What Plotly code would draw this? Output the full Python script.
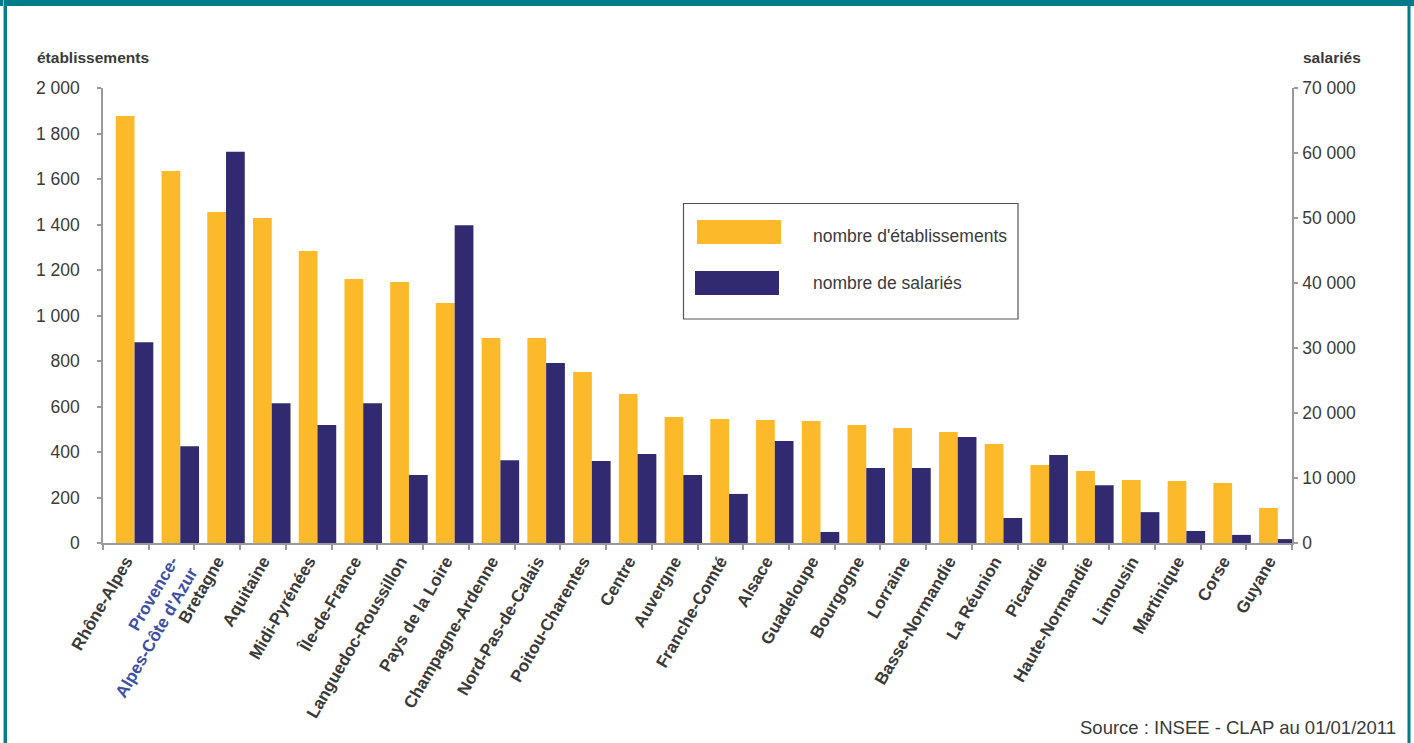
import plotly.graph_objects as go

regions = ["Rhône-Alpes", "Provence-Alpes-Côte d'Azur", "Bretagne", "Aquitaine", "Midi-Pyrénées",
           "Île-de-France", "Languedoc-Roussillon", "Pays de la Loire", "Champagne-Ardenne",
           "Nord-Pas-de-Calais", "Poitou-Charentes", "Centre", "Auvergne", "Franche-Comté",
           "Alsace", "Guadeloupe", "Bourgogne", "Lorraine", "Basse-Normandie", "La Réunion",
           "Picardie", "Haute-Normandie", "Limousin", "Martinique", "Corse", "Guyane"]
etablissements = [1877, 1635, 1455, 1429, 1284, 1160, 1147, 1055, 901, 901, 752, 655, 554, 545,
                  541, 536, 519, 505, 488, 435, 343, 316, 277, 273, 264, 154]
salaries = [30900, 14900, 60200, 21500, 18150, 21500, 10450, 48900, 12750, 27700, 12600, 13700,
            10450, 7550, 15700, 1700, 11550, 11550, 16300, 3850, 13550, 8900, 4750, 1850, 1250, 600]
highlight = "Provence-Alpes-Côte d'Azur"
left_ticks = [0, 200, 400, 600, 800, 1000, 1200, 1400, 1600, 1800, 2000]
right_ticks = [0, 10000, 20000, 30000, 40000, 50000, 60000, 70000]
series_names = ["nombre d'établissements", "nombre de salariés"]
source_text = "Source : INSEE - CLAP au 01/01/2011"

ORANGE = "#FCBA2A"
NAVY = "#312A70"
TEAL = "#007B8A"
TXT = "#3a3a3a"
AX = "#9a9a9a"
FONT = "Liberation Sans, Arial, sans-serif"

W, H = 1414, 743
ML, MR, MT, MB = 103, 122, 88, 200
PW, PH = W - ML - MR, H - MT - MB


def px(x):
    return (x - ML) / PW


def py(y):
    return (H - MB - y) / PH


def fmt(v):
    return f"{v:,}".replace(",", " ")


ticktext = []
for r in regions:
    if r == highlight:
        ticktext.append("<span style='color:#3c50a8'>Provence-</span><br>"
                        "<span style='color:#3c50a8'>Alpes-Côte d'Azur</span>")
    else:
        ticktext.append(r)

fig = go.Figure()
fig.add_trace(go.Bar(x=regions, y=etablissements, name=series_names[0], marker_color=ORANGE,
                     offset=-0.22, width=0.41, yaxis="y", marker_line_width=0))
fig.add_trace(go.Bar(x=regions, y=salaries, name=series_names[1], marker_color=NAVY,
                     offset=0.19, width=0.41, yaxis="y2", marker_line_width=0))

shapes = []
# frame
shapes.append(dict(type="rect", xref="paper", yref="paper", x0=px(0), x1=px(W), y0=py(6), y1=py(0),
                   fillcolor=TEAL, line_width=0, layer="above"))
shapes.append(dict(type="rect", xref="paper", yref="paper", x0=px(3), x1=px(4), y0=py(H), y1=py(0),
                   fillcolor="#8fc4c9", line_width=0))
shapes.append(dict(type="rect", xref="paper", yref="paper", x0=px(4), x1=px(7), y0=py(H), y1=py(0),
                   fillcolor=TEAL, line_width=0))
shapes.append(dict(type="rect", xref="paper", yref="paper", x0=px(1407.5), x1=px(1410.5), y0=py(H), y1=py(0),
                   fillcolor=TEAL, line_width=0))
# legend box
shapes.append(dict(type="rect", xref="paper", yref="paper", x0=px(683.5), x1=px(1018), y0=py(319), y1=py(203.5),
                   fillcolor="white", line=dict(color="#555555", width=1.2)))
shapes.append(dict(type="rect", xref="paper", yref="paper", x0=px(697), x1=px(781), y0=py(244), y1=py(220),
                   fillcolor=ORANGE, line_width=0))
shapes.append(dict(type="rect", xref="paper", yref="paper", x0=px(695), x1=px(779), y0=py(295), y1=py(271),
                   fillcolor=NAVY, line_width=0))

annotations = [
    dict(text="établissements", xref="paper", yref="paper", x=px(35), y=py(57), xanchor="left", yanchor="middle",
         showarrow=False, font=dict(family=FONT, size=15.5, color=TXT, weight="bold")),
    dict(text="salariés", xref="paper", yref="paper", x=px(1301), y=py(57), xanchor="left", yanchor="middle",
         showarrow=False, font=dict(family=FONT, size=15.5, color=TXT, weight="bold")),
    dict(text=series_names[0], xref="paper", yref="paper", x=px(811), y=py(236), xanchor="left", yanchor="middle",
         showarrow=False, font=dict(family=FONT, size=17.5, color=TXT)),
    dict(text=series_names[1], xref="paper", yref="paper", x=px(811), y=py(283), xanchor="left", yanchor="middle",
         showarrow=False, font=dict(family=FONT, size=17.5, color=TXT)),
    dict(text=source_text, xref="paper", yref="paper", x=px(1398), y=py(727), xanchor="right", yanchor="middle",
         showarrow=False, font=dict(family=FONT, size=18.5, color=TXT)),
]

fig.update_layout(
    width=W, height=H,
    margin=dict(l=ML, r=MR, t=MT, b=MB, pad=0),
    paper_bgcolor="white", plot_bgcolor="white",
    showlegend=False,
    barmode="overlay",
    font=dict(family=FONT, color=TXT),
    shapes=shapes,
    annotations=annotations,
    xaxis=dict(type="category", categoryorder="array", categoryarray=regions,
               tickvals=regions, ticktext=ticktext, tickangle=-60, tickson="boundaries",
               ticks="outside", ticklen=5, tickcolor=AX, tickwidth=1.5,
               showline=True, linecolor=AX, linewidth=1.5, showgrid=False,
               tickfont=dict(family=FONT, size=17, color=TXT, weight="bold"),
               range=[-0.5, len(regions) - 0.5]),
    yaxis=dict(range=[0, 2000], tickvals=left_ticks, ticktext=[fmt(v) for v in left_ticks],
               ticks="outside", ticklen=4, tickcolor=AX, tickwidth=1.5,
               showline=True, linecolor=AX, linewidth=1.5, showgrid=False, zeroline=False,
               ticklabelstandoff=14,
               tickfont=dict(family=FONT, size=17.5, color=TXT)),
    yaxis2=dict(range=[0, 70000], overlaying="y", side="right", tickvals=right_ticks,
                ticktext=[fmt(v) for v in right_ticks],
                ticks="outside", ticklen=4, tickcolor=AX, tickwidth=1.5,
                showline=True, linecolor=AX, linewidth=1.5, showgrid=False, zeroline=False,
                ticklabelstandoff=1,
                tickfont=dict(family=FONT, size=17.5, color=TXT)),
)

fig.write_html("out.html", config={"displayModeBar": False},
               post_script="document.body.style.margin='0';document.body.style.overflow='hidden';")
